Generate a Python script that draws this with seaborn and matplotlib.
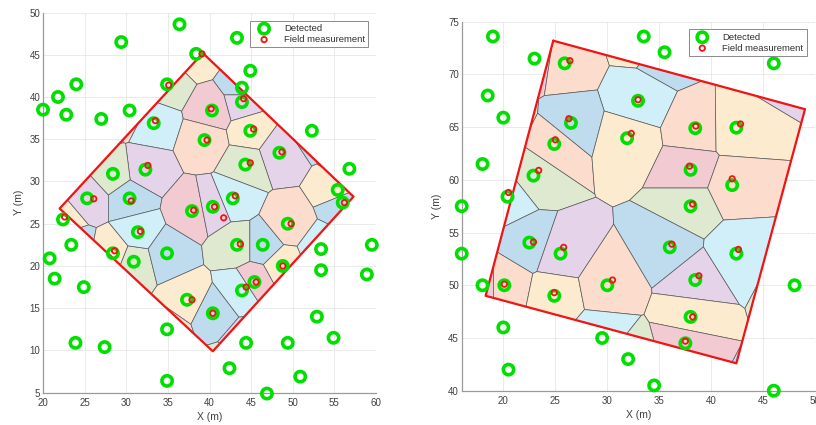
import numpy as np
import pandas as pd
import matplotlib
matplotlib.use("Agg")
import matplotlib.pyplot as plt
import seaborn as sns

# ---------------- plot A (left) ----------------
det_a_x = [20, 21.8, 24, 22.8, 27, 29.4, 30.4, 36.4, 38.4, 43.3, 44.9, 43.9, 43.9, 34.9,
           33.3, 40.3, 39.4, 44.9, 52.3, 48.4, 44.3, 32.3, 28.4, 56.8, 55.4, 56, 25.3,
           30.4, 42.8, 37.9, 40.4, 22.4, 23.4, 20.8, 21.4, 24.9, 23.9, 27.4, 28.4, 30.9,
           31.4, 34.9, 34.9, 34.9, 37.3, 40.4, 43.3, 46.4, 43.9, 45.4, 49.4, 48.8, 53.4,
           53.4, 59.5, 58.9, 52.9, 54.9, 49.4, 44.4, 42.4, 50.9, 46.9]
det_a_y = [38.5, 40, 41.5, 37.9, 37.4, 46.5, 38.4, 48.6, 45.1, 47, 43.1, 41.1, 39.4, 41.5,
           36.9, 38.4, 34.9, 36, 36, 33.4, 32, 31.4, 30.9, 31.5, 29, 27.5, 28,
           28, 28, 26.5, 27, 25.5, 22.5, 20.9, 18.5, 17.5, 10.9, 10.4, 21.5, 20.5,
           24, 21.5, 12.5, 6.4, 16, 14.4, 22.5, 22.5, 17.1, 18.1, 25, 20, 22,
           19.5, 22.5, 19, 14, 11.5, 10.9, 10.9, 7.9, 6.9, 4.9]
fld_a_x = [39.1, 35.1, 44.1, 40.2, 33.5, 45.3, 39.7, 48.7, 44.9, 32.6, 26.1, 30.6, 43.1,
           56.2, 38.1, 40.6, 41.7, 22.6, 28.6, 31.7, 37.9, 40.4, 43.7, 44.4, 45.6, 49.8, 48.8]
fld_a_y = [45.1, 41.4, 39.8, 38.6, 37.2, 36.2, 34.9, 33.5, 32.2, 31.9, 27.95, 27.7, 28.3,
           27.5, 26.6, 27, 25.7, 25.8, 21.8, 24.1, 16, 14.4, 22.6, 17.5, 18.1, 25, 20]
plot_a_x = [39.2, 57.3, 40.4, 22.0]
plot_a_y = [45.2, 28.2, 9.9, 26.8]

# ---------------- plot B (right) ----------------
det_b_x = [19, 23, 25.9, 33.5, 35.5, 46, 18.5, 20, 32.95, 26.5, 24.9, 31.9, 38.45, 42.4,
           18, 22.9, 20.4, 38, 42, 16, 38, 22.5, 25.5, 16, 36, 42.4, 18, 20.1, 24.9,
           30, 38.45, 48, 38, 37.5, 20, 29.5, 32, 20.5, 34.5, 46]
det_b_y = [73.6, 71.5, 71.05, 73.6, 72.1, 71.05, 68, 65.9, 67.5, 65.4, 63.4, 63.95, 64.9, 64.95,
           61.5, 60.4, 58.4, 60.95, 59.5, 57.5, 57.5, 54.05, 53, 53, 53.6, 53, 50, 50, 49,
           50, 50.5, 50, 47, 44.5, 46, 45, 43, 42, 40.5, 40]
fld_b_x = [26.4, 32.95, 26.3, 25, 32.3, 38.5, 42.8, 23.4, 20.5, 37.9, 42, 38.2, 22.9, 25.8,
           36.2, 42.6, 20.1, 24.9, 30.5, 38.8, 38.2, 37.5]
fld_b_y = [71.3, 67.6, 65.8, 63.8, 64.4, 65.1, 65.3, 60.9, 58.8, 61.3, 60.1, 57.7, 54.1, 53.6,
           53.9, 53.4, 50.1, 49.3, 50.5, 50.9, 47, 44.7]
plot_b_x = [24.8, 49.0, 42.4, 18.3]
plot_b_y = [73.2, 66.7, 42.6, 49.0]

cell_palette = ["#f2cbd2", "#dfe9d0", "#bfdcee", "#fcdccc", "#d0eff9", "#e5d4e9", "#fdebcf"]
GREEN = "#00e000"
RED = "#f01414"


def clip_halfplane(poly, n, c):
    """Keep the part of a convex polygon with n.p <= c."""
    out = []
    m = len(poly)
    for k in range(m):
        p, q = poly[k], poly[(k + 1) % m]
        dp, dq = n @ p - c, n @ q - c
        if dp <= 0:
            out.append(p)
        if dp * dq < 0:
            t = dp / (dp - dq)
            out.append(p + t * (q - p))
    return out


def voronoi_cells(seeds, boundary):
    cells = []
    for i, s in enumerate(seeds):
        poly = [np.array(v, float) for v in boundary]
        for j, o in enumerate(seeds):
            if i == j or not poly:
                continue
            n = o - s
            c = n @ ((s + o) / 2)
            poly = clip_halfplane(poly, n, c)
        cells.append(poly)
    return cells


def colour_cells(seeds, cells):
    idx = [i for i, c in enumerate(cells) if len(c) >= 3]
    nb = {i: set() for i in idx}
    for i in idx:
        for j in idx:
            if i == j:
                continue
            n = seeds[j] - seeds[i]
            c = n @ ((seeds[i] + seeds[j]) / 2)
            on = sum(abs(n @ p - c) < 1e-6 * (1 + np.linalg.norm(n)) for p in cells[i])
            if on >= 2:
                nb[i].add(j)
                nb[j].add(i)
    colours = {}
    for k, i in enumerate(idx):
        used = {colours[j] for j in nb[i] if j in colours}
        for step in range(len(cell_palette)):
            cand = (k * 3 + step) % len(cell_palette)
            if cand not in used:
                colours[i] = cand
                break
        else:
            colours[i] = k % len(cell_palette)
    return idx, colours


def draw_panel(ax, dx, dy, fx, fy, bx, by, xlim, ylim, xticks, yticks, leg_anchor):
    seeds = np.column_stack([dx, dy]).astype(float)
    boundary = np.column_stack([bx, by])
    cells = voronoi_cells(seeds, boundary)
    idx, colours = colour_cells(seeds, cells)
    for i in idx:
        poly = np.array(cells[i])
        ax.fill(poly[:, 0], poly[:, 1], facecolor=cell_palette[colours[i]],
                edgecolor="#5a5a5a", linewidth=0.5, zorder=2)
    ring = np.vstack([boundary, boundary[:1]])
    ax.plot(ring[:, 0], ring[:, 1], color=RED, linewidth=1.6, zorder=3)

    det = pd.DataFrame({"x": dx, "y": dy})
    fld = pd.DataFrame({"x": fx, "y": fy})
    sns.scatterplot(data=det, x="x", y="y", ax=ax, marker="o", s=55,
                    facecolor="none", edgecolor=GREEN, linewidth=2.6,
                    label="Detected", zorder=4, clip_on=False)
    sns.scatterplot(data=fld, x="x", y="y", ax=ax, marker="o", s=15,
                    facecolor="none", edgecolor=RED, linewidth=1.3,
                    label="Field measurement", zorder=5, clip_on=False)

    ax.set_xlim(*xlim)
    ax.set_ylim(*ylim)
    ax.set_xticks(xticks)
    ax.set_yticks(yticks)
    ax.set_xlabel("X (m)", fontsize=7.5, color="#404040", labelpad=3)
    ax.set_ylabel("Y (m)", fontsize=7.5, color="#404040", labelpad=4)
    ax.tick_params(labelsize=7, colors="#404040", length=0)
    ax.tick_params(axis="x", pad=4)
    ax.tick_params(axis="y", pad=2)
    ax.grid(True, color="#e6e6e6", linewidth=0.6)
    ax.set_axisbelow(True)
    for side in ("top", "right"):
        ax.spines[side].set_visible(False)
    for side in ("left", "bottom"):
        ax.spines[side].set_color("#9a9a9a")
        ax.spines[side].set_linewidth(0.9)
    leg = ax.legend(loc="upper right", bbox_to_anchor=leg_anchor, borderaxespad=0,
                    fontsize=6.8, fancybox=False, framealpha=1, edgecolor="#8a8a8a",
                    handletextpad=1.0, borderpad=0.35, labelspacing=0.2,
                    handlelength=2.2)
    leg.get_frame().set_linewidth(0.7)
    leg.set_zorder(10)
    for t in leg.get_texts():
        t.set_color("#303030")


sns.set_style("whitegrid")
plt.rcParams["font.family"] = ["Liberation Sans", "DejaVu Sans"]

fig = plt.figure(figsize=(8.16, 4.25), dpi=100)
ax_a = fig.add_axes([43 / 816, 32.3 / 425, 333 / 816, 380.2 / 425])
ax_b = fig.add_axes([461.7 / 816, 34.3 / 425, 353.7 / 816, 369 / 425])

draw_panel(ax_a, det_a_x, det_a_y, fld_a_x, fld_a_y, plot_a_x, plot_a_y,
           (20, 60), (5, 50), range(20, 61, 5), range(5, 51, 5), (0.977, 0.978))
draw_panel(ax_b, det_b_x, det_b_y, fld_b_x, fld_b_y, plot_b_x, plot_b_y,
           (16, 50), (40, 75), range(20, 51, 5), range(40, 76, 5), (0.975, 0.979))

fig.savefig("out.png", dpi=100)
